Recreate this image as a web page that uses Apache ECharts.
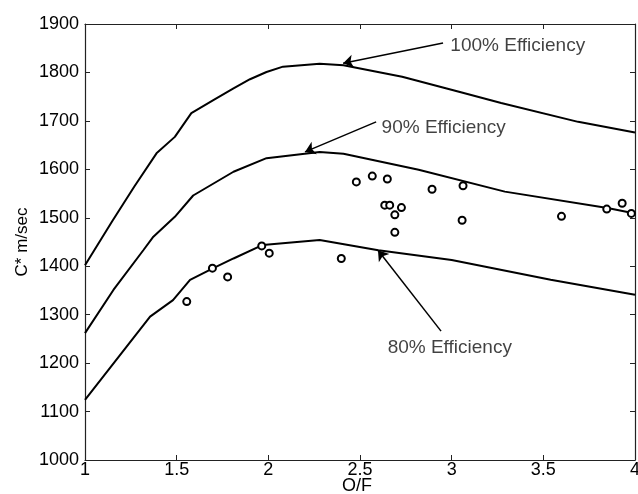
<!DOCTYPE html>
<html>
<head>
<meta charset="utf-8">
<script src="https://cdn.jsdelivr.net/npm/echarts@6/dist/echarts.min.js"></script>
<style>html,body{margin:0;padding:0;background:#fff;}#c{width:638px;height:494px;}</style>
</head>
<body>
<div id="c"></div>
<script>
// Theoretical C* curves (O/F, C* m/sec)
const curve100 = [[1,1402],[1.15,1494],[1.27,1565],[1.39,1633],[1.49,1667],[1.58,1716],[1.7,1743],[1.81,1767],[1.9,1786],[1.99,1801],[2.08,1812],[2.28,1818],[2.41,1815],[2.73,1791],[3.04,1760],[3.27,1737],[3.69,1698],[4.0,1676]];
const curve90 = [[1,1262],[1.155,1351],[1.318,1433],[1.373,1461],[1.49,1502],[1.59,1546],[1.81,1595],[1.99,1623],[2.28,1636],[2.41,1632],[2.82,1599],[3.29,1554],[3.85,1520],[4.0,1509]];
const curve80 = [[1,1124],[1.355,1296],[1.48,1330],[1.573,1372],[1.7,1396],[1.81,1416],[1.97,1444],[2.28,1454],[2.6,1433],[3.0,1413],[3.54,1372],[4.0,1341]];
// Measured test points
const testPoints = [[2.48,1574],[2.567,1586],[2.649,1580],[2.893,1559],[3.062,1566],[2.635,1526],[2.662,1526],[2.726,1521],[2.69,1506],[2.69,1470],[3.057,1495],[3.599,1503],[3.846,1518],[3.93,1530],[3.98,1509],[2.398,1416],[1.555,1327],[1.695,1396],[1.778,1378],[1.964,1442],[2.005,1427]];
// Annotations: label text, text anchor, arrow tail, arrow head
const annoLabels = ['100% Efficiency','90% Efficiency','80% Efficiency'];
const annoText = [[2.99,1855],[2.615,1685],[2.648,1231]];
const annoTail = [[2.953,1861],[2.588,1698],[2.942,1266]];
const annoHead = [[2.408,1819],[2.200,1636],[2.598,1433]];
const xTicks = {min:1,max:4,interval:0.5};
const yTicks = {min:1000,max:1900,interval:100};

const FONT = 'Liberation Sans, Arial, Helvetica, sans-serif';
const chart = echarts.init(document.getElementById('c'));
const lineCol = '#000';
const axisBase = {
  axisLine:{show:true,onZero:false,lineStyle:{color:'#222',width:1.2}},
  axisTick:{show:true,inside:true,length:5,lineStyle:{color:'#222',width:1}},
  splitLine:{show:false}
};
const curveSeries = (d)=>({type:'line',data:d,showSymbol:false,smooth:false,lineStyle:{color:lineCol,width:2},xAxisIndex:0,yAxisIndex:0,z:3});
chart.setOption({
  animation:false,
  backgroundColor:'#fff',
  grid:{left:85,right:3,top:24,bottom:34,containLabel:false,outerBoundsMode:'none'},
  xAxis:[
    Object.assign({type:'value',position:'bottom',min:xTicks.min,max:xTicks.max,interval:xTicks.interval,
      name:'O/F',nameLocation:'middle',nameGap:17,nameMoveOverlap:false,nameTextStyle:{fontFamily:FONT,fontSize:18,color:'#000',padding:[0,6,0,0]},
      axisLabel:{fontFamily:FONT,fontSize:18,color:'#000',margin:1,formatter:(v)=>String(v)}},axisBase),
    Object.assign({type:'value',position:'top',min:xTicks.min,max:xTicks.max,interval:xTicks.interval,axisLabel:{show:false}},axisBase)
  ],
  yAxis:[
    Object.assign({type:'value',position:'left',min:yTicks.min,max:yTicks.max,interval:yTicks.interval,
      name:'C* m/sec',nameLocation:'middle',nameGap:54,nameMoveOverlap:false,nameRotate:90,nameTextStyle:{fontFamily:FONT,fontSize:17,color:'#000'},
      axisLabel:{fontFamily:FONT,fontSize:18,color:'#000',margin:6,formatter:(v)=>String(v)}},axisBase),
    Object.assign({type:'value',position:'right',min:yTicks.min,max:yTicks.max,interval:yTicks.interval,axisLabel:{show:false}},axisBase)
  ],
  series:[
    curveSeries(curve100),
    curveSeries(curve90),
    curveSeries(curve80),
    {type:'scatter',data:testPoints,symbol:'circle',symbolSize:7,
      itemStyle:{color:'#fff',borderColor:'#000',borderWidth:2,opacity:1},z:4},
    {type:'scatter',symbolSize:1,itemStyle:{color:'transparent'},z:5,
      data:annoLabels.map((n,i)=>({name:n,value:annoText[i]})),
      label:{show:true,position:'right',distance:0,formatter:'{b}',fontFamily:FONT,fontSize:19,color:'#111'},
      markLine:{silent:true,symbol:['none','arrow'],symbolSize:10,
        lineStyle:{color:'#000',width:1.5,type:'solid'},itemStyle:{color:'#000'},label:{show:false},
        data:annoTail.map((t,i)=>[{coord:t,symbol:'none'},{coord:annoHead[i],symbol:'arrow',symbolSize:10}])}
    }
  ]
});
</script>
</body>
</html>
